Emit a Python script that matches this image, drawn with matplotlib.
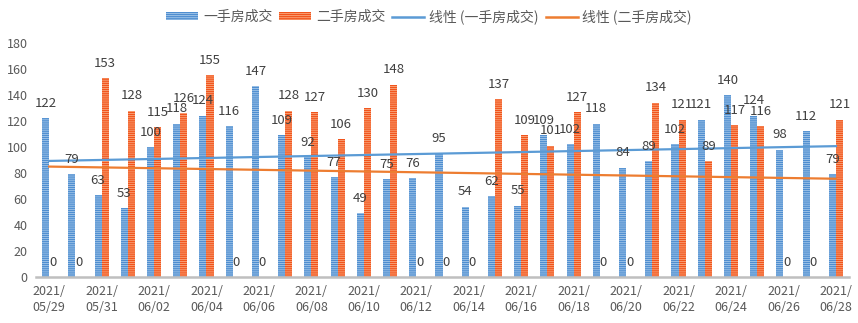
import matplotlib
matplotlib.use("Agg")
import matplotlib.pyplot as plt
import numpy as np
from matplotlib.patches import Patch
from matplotlib.lines import Line2D

plt.rcParams['font.family'] = ['Noto Sans CJK SC', 'DejaVu Sans']
plt.rcParams['hatch.linewidth'] = 0.6

dates = ["05/29", "05/30", "05/31", "06/01", "06/02", "06/03", "06/04", "06/05",
         "06/06", "06/07", "06/08", "06/09", "06/10", "06/11", "06/12", "06/13",
         "06/14", "06/15", "06/16", "06/17", "06/18", "06/19", "06/20", "06/21",
         "06/22", "06/23", "06/24", "06/25", "06/26", "06/27", "06/28"]
first_hand = [122, 79, 63, 53, 100, 118, 124, 116, 147, 109, 92, 77, 49, 75, 76, 95,
              54, 62, 55, 109, 102, 118, 84, 89, 102, 121, 140, 124, 98, 112, 79]
second_hand = [0, 0, 153, 128, 115, 126, 155, 0, 0, 128, 127, 106, 130, 148, 0, 0,
               0, 137, 109, 101, 127, 0, 0, 134, 121, 89, 117, 116, 0, 0, 121]
series_names = ["一手房成交", "二手房成交"]
trend_names = ["线性 (一手房成交)", "线性 (二手房成交)"]

blue_face, blue_hatch = "#4F8ED0", "#A6C8EA"
orange_face, orange_hatch = "#F1541C", "#FAAA80"
blue_line, orange_line = "#5B9BD5", "#ED7D31"
text_gray = "#595959"
label_gray = "#404040"

fig = plt.figure(figsize=(8.58, 3.23), dpi=100)
ax = fig.add_axes([0.042, 0.1424, 0.9475, 0.7245])

x = np.arange(len(dates))
w = 0.27
b1 = ax.bar(x - w / 2, first_hand, w, color=blue_face, edgecolor=blue_hatch,
            linewidth=0, hatch="--------", zorder=2)
b2 = ax.bar(x + w / 2, second_hand, w, color=orange_face, edgecolor=orange_hatch,
            linewidth=0, hatch="--------", zorder=2)

for bars, vals in ((b1, first_hand), (b2, second_hand)):
    for rect, v in zip(bars, vals):
        ax.annotate(str(v), (rect.get_x() + rect.get_width() / 2, v),
                    xytext=(0, 6), textcoords="offset points",
                    ha="center", va="bottom", fontsize=9.5, color=label_gray,
                    zorder=4)

# linear trend lines
for vals, col in ((first_hand, blue_line), (second_hand, orange_line)):
    k, c = np.polyfit(x, vals, 1)
    ax.plot(x, k * x + c, color=col, linewidth=1.6, zorder=3)

ax.set_xlim(-0.5, len(dates) - 0.5)
ax.set_ylim(0, 180)
ax.set_yticks(np.arange(0, 181, 20))
ax.set_xticks(x[::2])
ax.set_xticklabels(["2021/\n" + d for d in dates[::2]], linespacing=1.25)
ax.tick_params(axis="both", length=0, labelsize=9, colors=text_gray)
ax.tick_params(axis="x", pad=6)
ax.tick_params(axis="y", pad=6)
for s in ("top", "right", "left"):
    ax.spines[s].set_visible(False)
ax.spines["bottom"].set_color("#BFBFBF")
ax.spines["bottom"].set_linewidth(1.8)
ax.spines["bottom"].set_zorder(5)

handles = [
    Patch(facecolor=blue_face, edgecolor=blue_hatch, hatch="--------", linewidth=0),
    Patch(facecolor=orange_face, edgecolor=orange_hatch, hatch="--------", linewidth=0),
    Line2D([], [], color=blue_line, linewidth=1.8),
    Line2D([], [], color=orange_line, linewidth=1.8),
]
leg = fig.legend(handles, series_names + trend_names, loc="center",
                 bbox_to_anchor=(0.5, 0.948), ncol=4, frameon=False, fontsize=10,
                 handlelength=2.3, handleheight=0.5, handletextpad=0.35,
                 columnspacing=0.5, labelcolor=text_gray)

fig.savefig("out.png", dpi=100)
